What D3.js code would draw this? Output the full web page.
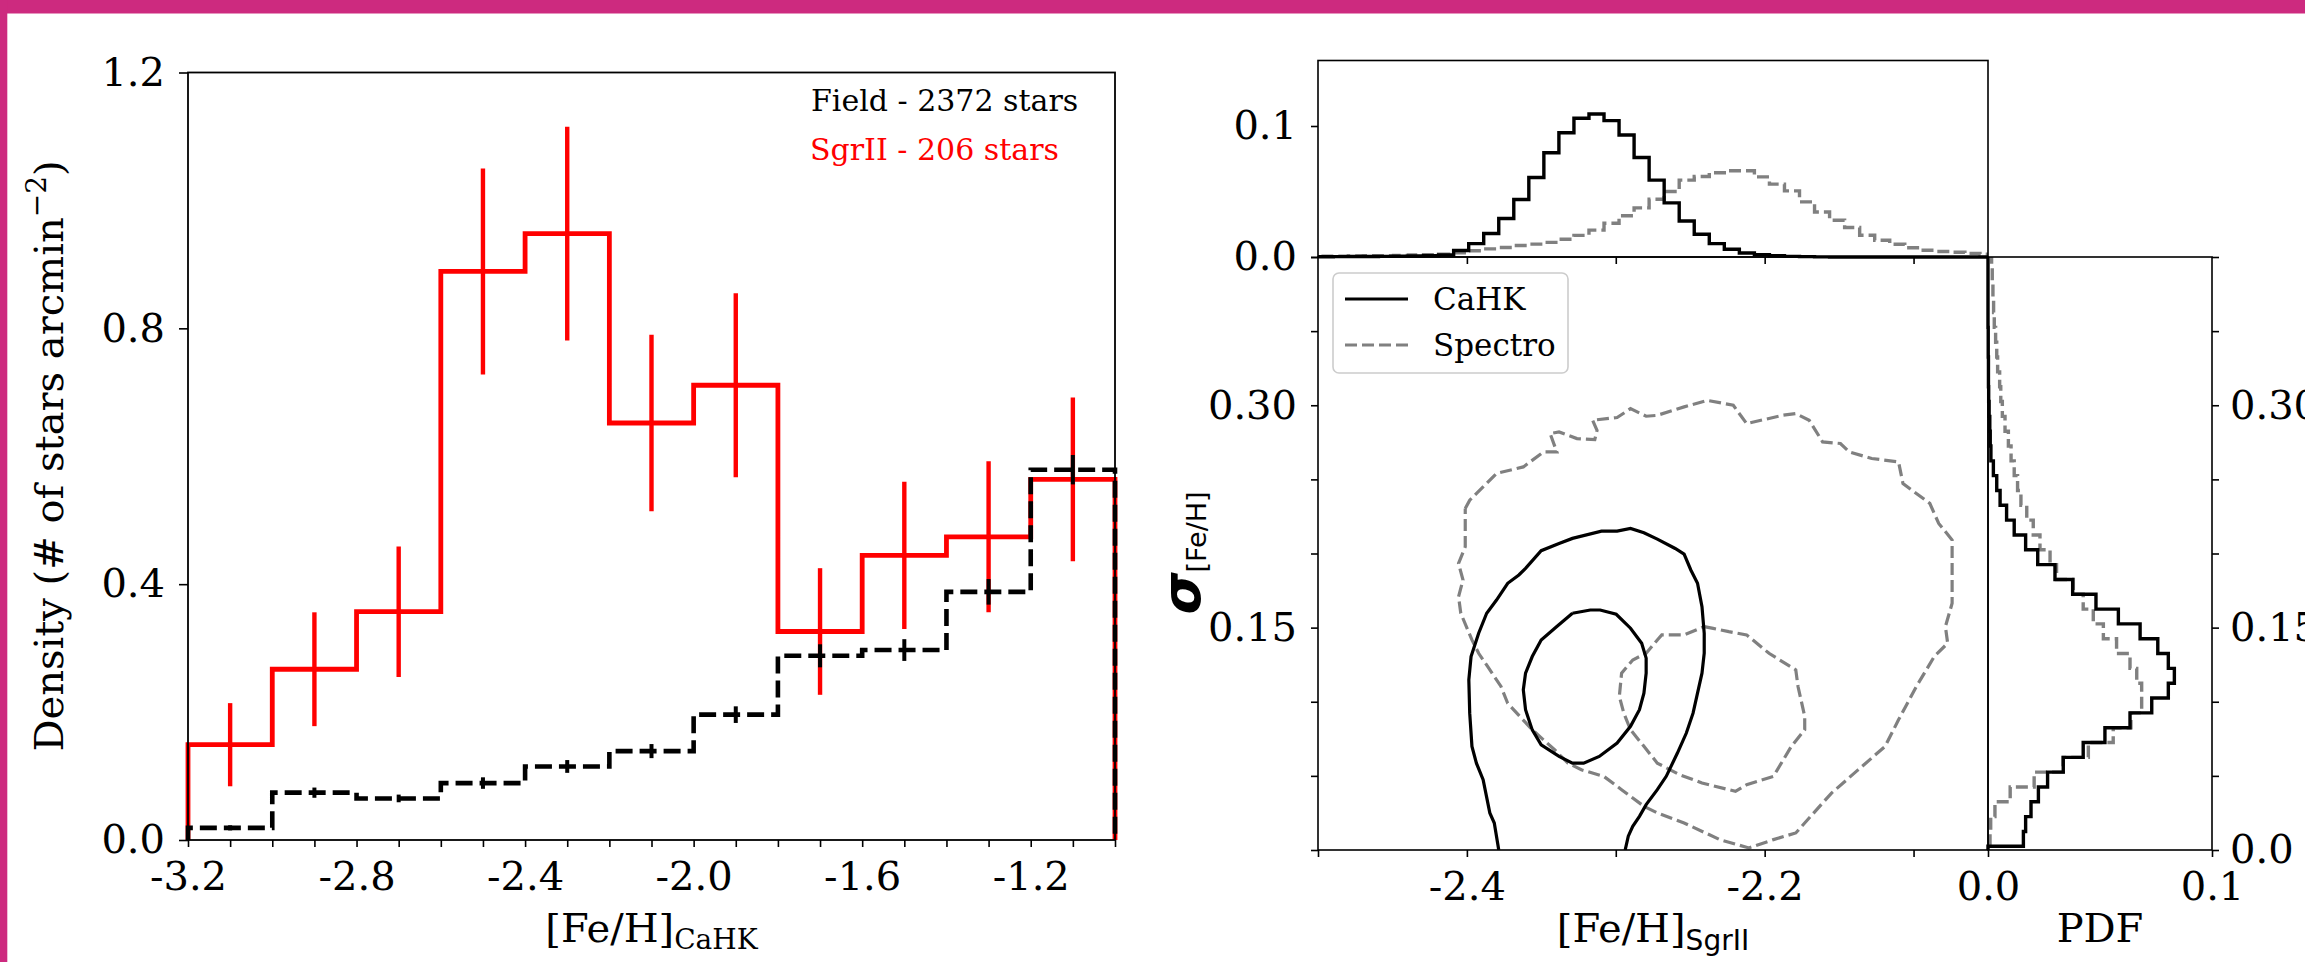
<!DOCTYPE html>
<html>
<head>
<meta charset="utf-8">
<script src="https://cdn.jsdelivr.net/npm/d3@7"></script>
<style>
body { margin: 0; background: #fff; }
svg text { font-family: "DejaVu Serif", serif; }
</style>
</head>
<body>
<svg id="chart" width="2305" height="962"></svg>
<script>
"use strict";

// ---- left panel: density per 0.2 dex bin ----
var feEdges = [-3.2, -3.0, -2.8, -2.6, -2.4, -2.2, -2.0, -1.8, -1.6, -1.4, -1.2, -1.0];
var sgrDensity = [0.149, 0.267, 0.357, 0.889, 0.948, 0.652, 0.711, 0.326, 0.445, 0.474, 0.564];
var sgrErr = [0.065, 0.089, 0.102, 0.161, 0.167, 0.138, 0.144, 0.099, 0.115, 0.118, 0.128];
var fieldDensity = [0.019, 0.074, 0.065, 0.089, 0.115, 0.139, 0.196, 0.288, 0.297, 0.388, 0.579];
var fieldErr = [0.004, 0.008, 0.006, 0.009, 0.010, 0.011, 0.013, 0.018, 0.017, 0.020, 0.023];

var leftXTicks = [-3.2, -3.1, -3.0, -2.9, -2.8, -2.7, -2.6, -2.5, -2.4, -2.3, -2.2, -2.1,
                  -2.0, -1.9, -1.8, -1.7, -1.6, -1.5, -1.4, -1.3, -1.2, -1.1, -1.0];
var leftXLabeled = [-3.2, -2.8, -2.4, -2.0, -1.6, -1.2];
var leftYTicks = [0.0, 0.4, 0.8, 1.2];

// ---- right panel: marginal PDFs (fine bins) ----
var topBinStart = -2.52, topBinWidth = 0.0101;
var topCaHK = [0.0002, 0.0002, 0.0002, 0.0003, 0.0004, 0.0004, 0.0005, 0.0007, 0.0008, 0.0010,
               0.0015, 0.0050, 0.0102, 0.0179, 0.0294, 0.0439, 0.0607, 0.0796, 0.0949, 0.1059,
               0.1092, 0.1041, 0.0931, 0.0760, 0.0587, 0.0413, 0.0275, 0.0174, 0.0102, 0.0059,
               0.0030, 0.0018, 0.0010, 0.0005, 0.0003, 0.0001, 0, 0, 0, 0, 0, 0, 0, 0, 0, 0, 0];
var topSpectro = [0.0005, 0.0005, 0.0006, 0.0007, 0.0008, 0.0009, 0.0010, 0.0012, 0.0015, 0.0018,
                  0.0022, 0.0032, 0.0048, 0.0062, 0.0072, 0.0088, 0.0098, 0.0112, 0.0135, 0.0165,
                  0.0205, 0.0258, 0.0315, 0.0375, 0.0441, 0.0500, 0.0587, 0.0615, 0.0643, 0.0658,
                  0.0658, 0.0612, 0.0556, 0.0505, 0.0421, 0.0344, 0.0281, 0.0225, 0.0166, 0.0128,
                  0.0097, 0.0071, 0.0051, 0.0042, 0.0036, 0.0028, 0.0022];

var sideBinStart = -0.0075, sideBinWidth = 0.01;
var sideCaHK = [0, 0.0158, 0.0168, 0.0192, 0.0225, 0.0266, 0.0336, 0.0425, 0.0522, 0.0634,
                0.0731, 0.0805, 0.0832, 0.0805, 0.0758, 0.0679, 0.0582, 0.0482, 0.0378, 0.0299,
                0.0222, 0.0168, 0.0117, 0.0083, 0.0054, 0.0039, 0.0024, 0.0013, 0.0010, 0.0008,
                0.0005, 0.0003, 0.0002, 0.0002, 0.0001, 0.0001, 0, 0, 0, 0, 0];
var sideSpectro = [0.0009, 0.0009, 0.0012, 0.0031, 0.0099, 0.0206, 0.0335, 0.0448, 0.0559, 0.0638,
                   0.0686, 0.0686, 0.0664, 0.0634, 0.0574, 0.0515, 0.0470, 0.0425, 0.0381, 0.0306,
                   0.0277, 0.0232, 0.0202, 0.0173, 0.0147, 0.0132, 0.0117, 0.0103, 0.0091, 0.0076,
                   0.0064, 0.0057, 0.0052, 0.0043, 0.0039, 0.0034, 0.0028, 0.0025, 0.0022, 0.0019,
                   0.0016];

// contour levels, [feh, sigma]
var cahkInner = [[-2.3291, 0.1597], [-2.3171, 0.1619], [-2.3105, 0.1619], [-2.2997, 0.1590],
  [-2.2901, 0.1496], [-2.2826, 0.1395], [-2.2796, 0.1294], [-2.2796, 0.1193], [-2.2811, 0.1058],
  [-2.2841, 0.0946], [-2.2901, 0.0834], [-2.2991, 0.0721], [-2.3111, 0.0631], [-2.3216, 0.0586],
  [-2.3291, 0.0586], [-2.3381, 0.0631], [-2.3501, 0.0710], [-2.3561, 0.0810], [-2.3606, 0.0946],
  [-2.3621, 0.1080], [-2.3606, 0.1193], [-2.3561, 0.1305], [-2.3501, 0.1417], [-2.3396, 0.1507],
  [-2.3291, 0.1597]];
var cahkOuter = [[-2.3786, 0.0], [-2.3816, 0.0182], [-2.3846, 0.0250], [-2.3891, 0.0474],
  [-2.3936, 0.0586], [-2.3966, 0.0699], [-2.3981, 0.0923], [-2.3987, 0.1148], [-2.3972, 0.1305],
  [-2.3921, 0.1462], [-2.3867, 0.1597], [-2.3801, 0.1686], [-2.3726, 0.1799], [-2.3651, 0.1855],
  [-2.3606, 0.1900], [-2.3501, 0.2019], [-2.3381, 0.2068], [-2.3291, 0.2102], [-2.3096, 0.2151],
  [-2.2991, 0.2151], [-2.2901, 0.2169], [-2.2811, 0.2140], [-2.2721, 0.2097], [-2.2601, 0.2034],
  [-2.2541, 0.1996], [-2.2496, 0.1889], [-2.2451, 0.1799], [-2.2421, 0.1641], [-2.2406, 0.1462],
  [-2.2406, 0.1327], [-2.2421, 0.1193], [-2.2451, 0.1058], [-2.2481, 0.0923], [-2.2526, 0.0789],
  [-2.2586, 0.0654], [-2.2661, 0.0497], [-2.2721, 0.0407], [-2.2796, 0.0306], [-2.2841, 0.0227],
  [-2.2886, 0.0160], [-2.2916, 0.0093], [-2.2937, 0.0]];
var specInner = [[-2.2406, 0.1507], [-2.2346, 0.1495], [-2.2241, 0.1473], [-2.2121, 0.1451],
  [-2.1971, 0.1327], [-2.1791, 0.1215], [-2.1776, 0.1103], [-2.1731, 0.0901], [-2.1731, 0.0811],
  [-2.1821, 0.0699], [-2.1941, 0.0497], [-2.2121, 0.0441], [-2.2196, 0.0396], [-2.2421, 0.0452],
  [-2.2571, 0.0508], [-2.2721, 0.0586], [-2.2811, 0.0699], [-2.2901, 0.0811], [-2.2946, 0.0923],
  [-2.2976, 0.1036], [-2.2961, 0.1193], [-2.2886, 0.1282], [-2.2796, 0.1327], [-2.2721, 0.1417],
  [-2.2691, 0.1451], [-2.2541, 0.1451], [-2.2406, 0.1507]];
var specOuter = [[-2.4011, 0.2304], [-2.3981, 0.2360], [-2.3801, 0.2540], [-2.3621, 0.2584],
  [-2.3486, 0.2685], [-2.3396, 0.2685], [-2.3441, 0.2809], [-2.3381, 0.2820], [-2.3261, 0.2775],
  [-2.3141, 0.2768], [-2.3126, 0.2831], [-2.3156, 0.2899], [-2.2991, 0.2917], [-2.2901, 0.2977],
  [-2.2796, 0.2926], [-2.2721, 0.2932], [-2.2541, 0.2989], [-2.2385, 0.3033], [-2.2211, 0.3000],
  [-2.2121, 0.2876], [-2.1881, 0.2932], [-2.1791, 0.2944], [-2.1701, 0.2899], [-2.1611, 0.2753],
  [-2.1491, 0.2742], [-2.1431, 0.2685], [-2.1281, 0.2641], [-2.1101, 0.2618], [-2.1071, 0.2472],
  [-2.0891, 0.2338], [-2.0831, 0.2203], [-2.0741, 0.2091], [-2.0741, 0.1821], [-2.0741, 0.1664],
  [-2.0786, 0.1507], [-2.0771, 0.1395], [-2.0861, 0.1305], [-2.0981, 0.1103], [-2.1101, 0.0878],
  [-2.1191, 0.0699], [-2.1371, 0.0542], [-2.1551, 0.0384], [-2.1791, 0.0115], [-2.1941, 0.0070],
  [-2.2106, 0.0014], [-2.2301, 0.0070], [-2.2541, 0.0182], [-2.2721, 0.0250], [-2.2811, 0.0295],
  [-2.2961, 0.0407], [-2.3081, 0.0497], [-2.3231, 0.0541], [-2.3321, 0.0586], [-2.3411, 0.0676],
  [-2.3561, 0.0811], [-2.3726, 0.0990], [-2.3771, 0.1103], [-2.3861, 0.1238], [-2.3921, 0.1327],
  [-2.3966, 0.1417], [-2.4041, 0.1597], [-2.4056, 0.1709], [-2.4026, 0.1821], [-2.4056, 0.1933],
  [-2.4011, 0.2046], [-2.4011, 0.2304]];

var mainXTicks = [-2.5, -2.4, -2.3, -2.2, -2.1];
var mainXLabeled = [-2.4, -2.2];
var sigmaTicks = [0, 0.05, 0.10, 0.15, 0.20, 0.25, 0.30, 0.35, 0.40];
var sigmaLeftLabels = [0.15, 0.30];
var sigmaRightVals = [0, 0.15, 0.30];
var sigmaRightText = ["0.0", "0.15", "0.30"];
var topPdfTicks = [0.0, 0.1];
var sidePdfTicks = [0.0, 0.1];

var magenta = "#cd2a7f";
var grey = "#808080";
var greyDash = "12,5";

var svg = d3.select("#chart");

svg.append("rect").attr("width", 2305).attr("height", 962).attr("fill", "#fff");
svg.append("rect").attr("x", 0).attr("y", 0).attr("width", 2305).attr("height", 13.5).attr("fill", magenta);
svg.append("rect").attr("x", 0).attr("y", 0).attr("width", 7.3).attr("height", 962).attr("fill", magenta);

function isIn(list, d) {
    return list.some(function(v) { return Math.abs(v - d) < 1e-9; });
}

function styleAxis(g, size) {
    g.attr("font-family", "DejaVu Serif").attr("font-size", size);
    g.select(".domain").remove();
    g.selectAll(".tick line").attr("stroke", "#000").attr("stroke-width", 1.6);
    g.selectAll(".tick text").attr("fill", "#000");
}

// step outline in (edge, value) pairs
function stepPoints(start, width, vals) {
    var pts = [[start, 0]];
    vals.forEach(function(v, i) {
        pts.push([start + i * width, v]);
        pts.push([start + (i + 1) * width, v]);
    });
    pts.push([start + vals.length * width, 0]);
    return pts;
}

// =============== left panel ===============
var xL = d3.scaleLinear().domain([-3.2, -1.0]).range([188, 1115]);
var yL = d3.scaleLinear().domain([0, 1.2]).range([840, 72.5]);

var histLine = d3.line()
    .x(function(d) { return xL(d[0]); })
    .y(function(d) { return yL(d[1]); })
;

svg.append("path")
    .attr("d", histLine(stepPoints(feEdges[0], 0.2, sgrDensity)))
    .attr("fill", "none").attr("stroke", "#ff0000").attr("stroke-width", 4.8)
;

var centers = sgrDensity.map(function(d, i) { return (feEdges[i] + feEdges[i + 1]) / 2; });

svg.append("g").selectAll("line")
    .data(sgrDensity)
    .enter().append("line")
    .attr("x1", function(d, i) { return xL(centers[i]); })
    .attr("x2", function(d, i) { return xL(centers[i]); })
    .attr("y1", function(d, i) { return yL(d - sgrErr[i]); })
    .attr("y2", function(d, i) { return yL(d + sgrErr[i]); })
    .attr("stroke", "#ff0000").attr("stroke-width", 4.4)
;

svg.append("path")
    .attr("d", histLine(stepPoints(feEdges[0], 0.2, fieldDensity)))
    .attr("fill", "none").attr("stroke", "#000").attr("stroke-width", 4.6)
    .attr("stroke-dasharray", "17,7")
;

svg.append("g").selectAll("line")
    .data(fieldDensity)
    .enter().append("line")
    .attr("x1", function(d, i) { return xL(centers[i]); })
    .attr("x2", function(d, i) { return xL(centers[i]); })
    .attr("y1", function(d, i) { return yL(d - fieldErr[i]); })
    .attr("y2", function(d, i) { return yL(d + fieldErr[i]); })
    .attr("stroke", "#000").attr("stroke-width", 4)
;

svg.append("rect")
    .attr("x", 188).attr("y", 72.5).attr("width", 1115 - 188).attr("height", 840 - 72.5)
    .attr("fill", "none").attr("stroke", "#000").attr("stroke-width", 1.8)
;

var gxL = svg.append("g").attr("transform", "translate(0,840)")
    .call(d3.axisBottom(xL).tickValues(leftXTicks).tickSize(7).tickPadding(15).tickSizeOuter(0)
        .tickFormat(function(d) { return isIn(leftXLabeled, d) ? d.toFixed(1) : ""; }));
styleAxis(gxL, 40);

var gyL = svg.append("g").attr("transform", "translate(188,0)")
    .call(d3.axisLeft(yL).tickValues(leftYTicks).tickSize(9).tickPadding(14).tickSizeOuter(0)
        .tickFormat(function(d) { return d.toFixed(1); }));
styleAxis(gyL, 40);

svg.append("text").attr("x", 811).attr("y", 111).attr("font-size", 30).attr("fill", "#000")
    .text("Field - 2372 stars");
svg.append("text").attr("x", 810).attr("y", 160).attr("font-size", 30).attr("fill", "#ff0000")
    .text("SgrII - 206 stars");

var xlab = svg.append("text").attr("x", 651.5).attr("y", 942).attr("text-anchor", "middle")
    .attr("font-size", 40).attr("fill", "#000");
xlab.append("tspan").text("[Fe/H]");
xlab.append("tspan").attr("font-size", 28).attr("dy", 7).text("CaHK");

var ylab = svg.append("text").attr("transform", "translate(63,456) rotate(-90)")
    .attr("text-anchor", "middle").attr("font-size", 40).attr("fill", "#000");
ylab.append("tspan").text("Density (# of stars arcmin");
ylab.append("tspan").attr("font-size", 28).attr("dy", -17).text("\u22122");
ylab.append("tspan").attr("dy", 17).text(")");

// =============== right panel ===============
var xM = d3.scaleLinear().domain([-2.5, -2.05]).range([1318, 1988]);
var yM = d3.scaleLinear().domain([0, 0.4]).range([850, 257]);
var yT = d3.scaleLinear().domain([0, 0.15]).range([257, 60.5]);
var xR = d3.scaleLinear().domain([0, 0.1]).range([1988, 2212]);

var defs = svg.append("defs");
defs.append("clipPath").attr("id", "clipMain").append("rect")
    .attr("x", 1318).attr("y", 257).attr("width", 670).attr("height", 593);
defs.append("clipPath").attr("id", "clipTop").append("rect")
    .attr("x", 1318).attr("y", 60.5).attr("width", 670).attr("height", 199);
defs.append("clipPath").attr("id", "clipSide").append("rect")
    .attr("x", 1985).attr("y", 257).attr("width", 227).attr("height", 593);

// top marginal
var topLine = d3.line()
    .x(function(d) { return xM(d[0]); })
    .y(function(d) { return yT(d[1]); })
;
var gTop = svg.append("g").attr("clip-path", "url(#clipTop)");
gTop.append("path")
    .attr("d", topLine(stepPoints(topBinStart, topBinWidth, topSpectro)))
    .attr("fill", "none").attr("stroke", grey).attr("stroke-width", 3.4)
    .attr("stroke-dasharray", greyDash)
;
gTop.append("path")
    .attr("d", topLine(stepPoints(topBinStart, topBinWidth, topCaHK)))
    .attr("fill", "none").attr("stroke", "#000").attr("stroke-width", 3.4)
;

// side marginal (horizontal histogram)
var sideLine = d3.line()
    .x(function(d) { return xR(d[1]); })
    .y(function(d) { return yM(d[0]); })
;
var gSide = svg.append("g").attr("clip-path", "url(#clipSide)");
gSide.append("path")
    .attr("d", sideLine(stepPoints(sideBinStart, sideBinWidth, sideSpectro)))
    .attr("fill", "none").attr("stroke", grey).attr("stroke-width", 3.4)
    .attr("stroke-dasharray", greyDash)
;
gSide.append("path")
    .attr("d", sideLine(stepPoints(sideBinStart, sideBinWidth, sideCaHK)))
    .attr("fill", "none").attr("stroke", "#000").attr("stroke-width", 3.4)
;

// contours
var cLine = d3.line()
    .x(function(d) { return xM(d[0]); })
    .y(function(d) { return yM(d[1]); })
;
var gMain = svg.append("g").attr("clip-path", "url(#clipMain)");
[specOuter, specInner].forEach(function(c) {
    gMain.append("path").attr("d", cLine(c))
        .attr("fill", "none").attr("stroke", grey).attr("stroke-width", 3.2)
        .attr("stroke-dasharray", greyDash);
});
[cahkOuter, cahkInner].forEach(function(c) {
    gMain.append("path").attr("d", cLine(c))
        .attr("fill", "none").attr("stroke", "#000").attr("stroke-width", 3.2);
});

// frames
[[1318, 60.5, 670, 196.5], [1318, 257, 670, 593], [1988, 257, 224, 593]].forEach(function(r) {
    svg.append("rect").attr("x", r[0]).attr("y", r[1]).attr("width", r[2]).attr("height", r[3])
        .attr("fill", "none").attr("stroke", "#000").attr("stroke-width", 1.6);
});

// axes
var gxM = svg.append("g").attr("transform", "translate(0,850)")
    .call(d3.axisBottom(xM).tickValues(mainXTicks).tickSize(7).tickPadding(15).tickSizeOuter(0)
        .tickFormat(function(d) { return isIn(mainXLabeled, d) ? d.toFixed(1) : ""; }));
styleAxis(gxM, 40);

var gxT = svg.append("g").attr("transform", "translate(0,257)")
    .call(d3.axisBottom(xM).tickValues(mainXTicks.slice(1)).tickSize(7).tickSizeOuter(0)
        .tickFormat(""));
styleAxis(gxT, 40);

var gyM = svg.append("g").attr("transform", "translate(1318,0)")
    .call(d3.axisLeft(yM).tickValues(sigmaTicks).tickSize(7).tickPadding(14).tickSizeOuter(0)
        .tickFormat(function(d) { return isIn(sigmaLeftLabels, d) ? d.toFixed(2) : ""; }));
styleAxis(gyM, 40);

var gyT = svg.append("g").attr("transform", "translate(1318,0)")
    .call(d3.axisLeft(yT).tickValues(topPdfTicks).tickSize(7).tickPadding(14).tickSizeOuter(0)
        .tickFormat(function(d) { return d.toFixed(1); }));
styleAxis(gyT, 40);

var gyR = svg.append("g").attr("transform", "translate(2212,0)")
    .call(d3.axisRight(yM).tickValues(sigmaTicks).tickSize(7).tickPadding(11).tickSizeOuter(0)
        .tickFormat(function(d) {
            var k = sigmaRightVals.findIndex(function(v) { return Math.abs(v - d) < 1e-9; });
            return k >= 0 ? sigmaRightText[k] : "";
        }));
styleAxis(gyR, 40);

var gxR = svg.append("g").attr("transform", "translate(0,850)")
    .call(d3.axisBottom(xR).tickValues(sidePdfTicks).tickSize(7).tickPadding(15).tickSizeOuter(0)
        .tickFormat(function(d) { return d.toFixed(1); }));
styleAxis(gxR, 40);

// legend
var leg = svg.append("g");
leg.append("rect").attr("x", 1333).attr("y", 273).attr("width", 235).attr("height", 100)
    .attr("rx", 6).attr("fill", "#fff").attr("fill-opacity", 0.8)
    .attr("stroke", "#cccccc").attr("stroke-width", 1.6);
leg.append("line").attr("x1", 1345).attr("x2", 1408).attr("y1", 299).attr("y2", 299)
    .attr("stroke", "#000").attr("stroke-width", 3.2);
leg.append("line").attr("x1", 1345).attr("x2", 1408).attr("y1", 345).attr("y2", 345)
    .attr("stroke", grey).attr("stroke-width", 3.2).attr("stroke-dasharray", greyDash);
leg.append("text").attr("x", 1433).attr("y", 310).attr("font-size", 31).text("CaHK");
leg.append("text").attr("x", 1433).attr("y", 356).attr("font-size", 31).text("Spectro");

var xlabM = svg.append("text").attr("x", 1653).attr("y", 942).attr("text-anchor", "middle")
    .attr("font-size", 40).attr("fill", "#000");
xlabM.append("tspan").text("[Fe/H]");
xlabM.append("tspan").attr("font-family", "DejaVu Sans").attr("font-size", 28).attr("dy", 8).text("SgrII");

svg.append("text").attr("x", 2100).attr("y", 942).attr("text-anchor", "middle")
    .attr("font-size", 40).attr("fill", "#000").text("PDF");

var ylabM = svg.append("text").attr("transform", "translate(1200,553) rotate(-90)")
    .attr("text-anchor", "middle").attr("fill", "#000");
ylabM.append("tspan").attr("font-family", "DejaVu Sans").attr("font-weight", "bold")
    .attr("font-style", "italic").attr("font-size", 54).text("\u03c3");
ylabM.append("tspan").attr("font-family", "DejaVu Sans").attr("font-size", 27).attr("dy", 6).text("[Fe/H]");
</script>
</body>
</html>
